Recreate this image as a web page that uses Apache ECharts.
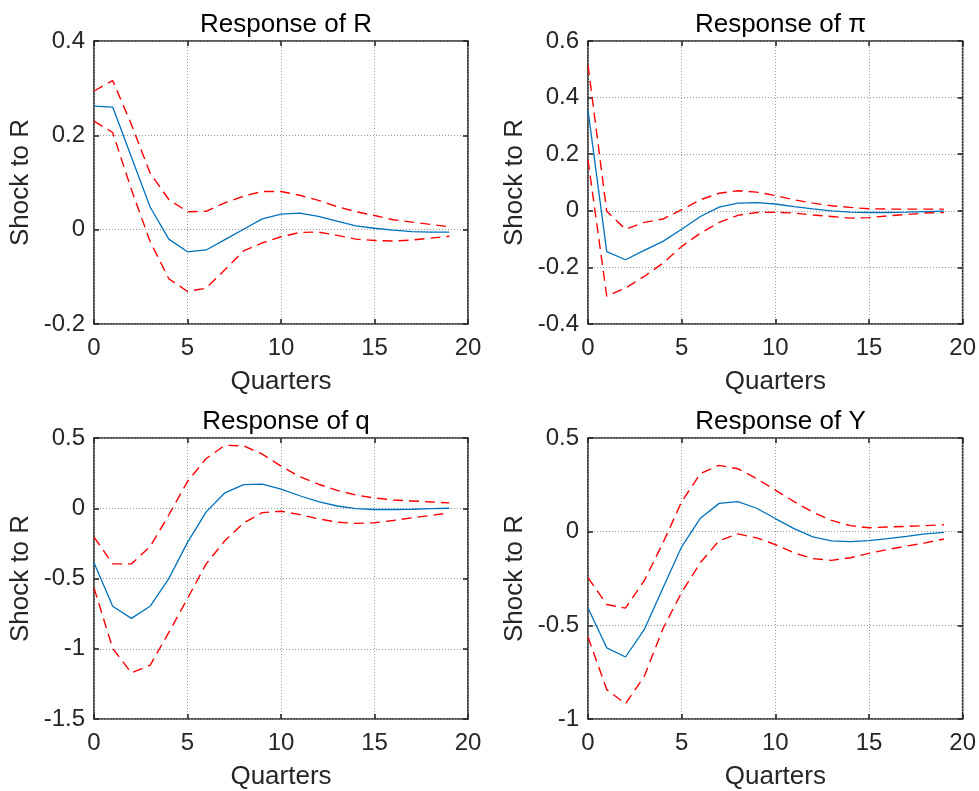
<!DOCTYPE html>
<html>
<head>
<meta charset="utf-8">
<script src="https://cdn.jsdelivr.net/npm/echarts@6/dist/echarts.min.js"></script>
<style>
html,body{margin:0;padding:0;background:#fff;}
#chart{width:979px;height:791px;}
</style>
</head>
<body>
<div id="chart"></div>
<script>
const quarters = [0,1,2,3,4,5,6,7,8,9,10,11,12,13,14,15,16,17,18,19];

const titles = ['Response of R', 'Response of \u03c0', 'Response of q', 'Response of Y'];
const yAxisLabel = 'Shock to R';
const xAxisLabel = 'Quarters';

const rMean  = [0.262,0.260,0.154,0.048,-0.020,-0.047,-0.043,-0.021,0.001,0.023,0.033,0.035,0.028,0.018,0.008,0.003,-0.001,-0.004,-0.005,-0.005];
const rUpper = [0.294,0.316,0.223,0.120,0.064,0.038,0.039,0.057,0.071,0.081,0.081,0.073,0.062,0.049,0.038,0.030,0.021,0.016,0.011,0.006];
const rLower = [0.230,0.206,0.085,-0.025,-0.104,-0.131,-0.124,-0.085,-0.045,-0.028,-0.015,-0.006,-0.005,-0.012,-0.020,-0.023,-0.024,-0.022,-0.018,-0.014];

const piMean  = [0.356,-0.144,-0.173,-0.140,-0.108,-0.065,-0.020,0.013,0.027,0.029,0.024,0.015,0.007,0.000,-0.005,-0.006,-0.006,-0.005,-0.003,-0.001];
const piUpper = [0.515,-0.002,-0.065,-0.041,-0.029,0.004,0.039,0.062,0.071,0.066,0.054,0.039,0.027,0.018,0.012,0.007,0.006,0.006,0.006,0.006];
const piLower = [0.180,-0.302,-0.273,-0.232,-0.185,-0.126,-0.079,-0.041,-0.016,-0.006,-0.005,-0.008,-0.015,-0.020,-0.026,-0.024,-0.018,-0.013,-0.008,-0.006];

const qMean  = [-0.388,-0.698,-0.784,-0.698,-0.501,-0.243,-0.026,0.110,0.168,0.171,0.136,0.089,0.047,0.016,-0.002,-0.009,-0.009,-0.007,-0.002,0.000];
const qUpper = [-0.205,-0.396,-0.396,-0.273,-0.048,0.190,0.354,0.448,0.444,0.385,0.300,0.225,0.171,0.127,0.094,0.073,0.059,0.052,0.045,0.038];
const qLower = [-0.567,-0.998,-1.172,-1.118,-0.884,-0.642,-0.396,-0.231,-0.105,-0.031,-0.021,-0.045,-0.075,-0.099,-0.108,-0.103,-0.087,-0.068,-0.052,-0.033];

const yMean  = [-0.407,-0.620,-0.669,-0.523,-0.301,-0.081,0.072,0.151,0.160,0.125,0.070,0.016,-0.028,-0.049,-0.053,-0.048,-0.037,-0.025,-0.012,-0.004];
const yUpper = [-0.245,-0.389,-0.408,-0.262,-0.060,0.160,0.310,0.354,0.336,0.283,0.222,0.160,0.104,0.060,0.032,0.021,0.025,0.028,0.032,0.037];
const yLower = [-0.562,-0.843,-0.919,-0.773,-0.518,-0.324,-0.165,-0.048,-0.012,-0.033,-0.069,-0.113,-0.144,-0.153,-0.139,-0.116,-0.095,-0.077,-0.060,-0.039];

const xTicks = {min: 0, max: 20, interval: 5};
const yTicks = [
  {min: -0.2, max: 0.4, interval: 0.2},
  {min: -0.4, max: 0.6, interval: 0.2},
  {min: -1.5, max: 0.5, interval: 0.5},
  {min: -1.0, max: 0.5, interval: 0.5}
];

const panels = [
  {mean: rMean, upper: rUpper, lower: rLower},
  {mean: piMean, upper: piUpper, lower: piLower},
  {mean: qMean, upper: qUpper, lower: qLower},
  {mean: yMean, upper: yUpper, lower: yLower}
];

const FONT = '"Liberation Sans", Arial, Helvetica, sans-serif';
const TXT = '#262626';
const gridPos = [
  {left: 94, top: 41, width: 374, height: 283},
  {left: 588, top: 41, width: 375, height: 283},
  {left: 94, top: 438, width: 374, height: 284},
  {left: 588, top: 438, width: 375, height: 284}
];

const fmt = v => String(Math.round(v * 100) / 100);

const grids = [], xAxes = [], yAxes = [], series = [], titleArr = [];
const tickStyle = {show: true, inside: true, length: 5, lineStyle: {color: TXT, width: 1.6}};
const gridLine = {show: true, lineStyle: {color: '#9a9a9a', type: [1, 2], width: 1}};
gridPos.forEach((g, i) => {
  grids.push(Object.assign({show: true, borderColor: TXT, borderWidth: 1.6, backgroundColor: '#fff'}, g));
  titleArr.push({
    text: titles[i], left: g.left + g.width / 2, top: g.top - 34, textAlign: 'center',
    textStyle: {fontFamily: FONT, fontSize: 26, fontWeight: 'normal', color: '#000'}
  });
  xAxes.push({
    type: 'value', gridIndex: i, min: xTicks.min, max: xTicks.max, interval: xTicks.interval,
    position: 'bottom',
    name: xAxisLabel, nameLocation: 'middle', nameGap: 45,
    nameTextStyle: {fontFamily: FONT, fontSize: 26, color: TXT},
    axisLine: {show: false, onZero: false},
    axisTick: tickStyle,
    axisLabel: {fontFamily: FONT, fontSize: 24, color: TXT, margin: 12},
    splitLine: gridLine
  });
  xAxes.push({
    type: 'value', gridIndex: i, min: xTicks.min, max: xTicks.max, interval: xTicks.interval,
    position: 'top',
    axisLine: {show: false, onZero: false},
    axisTick: tickStyle,
    axisLabel: {show: false}, splitLine: {show: false}
  });
  const yt = yTicks[i];
  yAxes.push({
    type: 'value', gridIndex: i, min: yt.min, max: yt.max, interval: yt.interval,
    position: 'left',
    name: yAxisLabel, nameLocation: 'middle', nameGap: 60, nameRotate: 90,
    nameTextStyle: {fontFamily: FONT, fontSize: 26, color: TXT},
    axisLine: {show: false, onZero: false},
    axisTick: tickStyle,
    axisLabel: {fontFamily: FONT, fontSize: 24, color: TXT, margin: 9, formatter: fmt},
    splitLine: gridLine
  });
  yAxes.push({
    type: 'value', gridIndex: i, min: yt.min, max: yt.max, interval: yt.interval,
    position: 'right',
    axisLine: {show: false, onZero: false},
    axisTick: tickStyle,
    axisLabel: {show: false}, splitLine: {show: false}
  });
  const p = panels[i];
  const mk = arr => quarters.map((q, k) => [q, arr[k]]);
  const base = {type: 'line', xAxisIndex: 2 * i, yAxisIndex: 2 * i, showSymbol: false, symbol: 'none', silent: true};
  series.push(Object.assign({}, base, {data: mk(p.upper), z: 3, lineStyle: {color: '#ff0000', width: 1.4, type: [10, 6]}}));
  series.push(Object.assign({}, base, {data: mk(p.mean), z: 4, lineStyle: {color: '#0072BD', width: 1.3}}));
  series.push(Object.assign({}, base, {data: mk(p.lower), z: 3, lineStyle: {color: '#ff0000', width: 1.4, type: [10, 6]}}));
});

const chart = echarts.init(document.getElementById('chart'), null, {renderer: 'canvas'});
chart.setOption({
  backgroundColor: '#ffffff',
  animation: false,
  title: titleArr,
  grid: grids,
  xAxis: xAxes,
  yAxis: yAxes,
  series: series
});
</script>
</body>
</html>
